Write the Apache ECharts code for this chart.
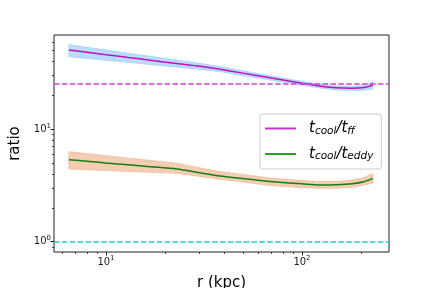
<!DOCTYPE html>
<html><head><meta charset="utf-8">
<script src="https://cdn.jsdelivr.net/npm/echarts@6/dist/echarts.min.js"></script>
<style>html,body{margin:0;padding:0;background:#fff}#c{width:432px;height:288px}</style>
</head><body><div id="c"></div>
<script>
const r = [6.47, 8, 10, 13, 16.8, 23, 30, 38.2, 50, 68.6, 100, 123, 150, 180, 207, 230];
const tff = [50.8, 48.5, 46.1, 43.5, 41.2, 38.4, 36.4, 34.2, 31.6, 28.7, 25.7, 24.3, 23.4, 23.2, 23.5, 24.8];
const tffUpper = [56.6, 53.6, 50.8, 47.5, 44.6, 41.3, 38.6, 36.2, 33.1, 30.0, 26.7, 25.3, 24.4, 24.1, 24.6, 26.5];
const tffLower = [44.3, 42.7, 41.1, 39.4, 37.7, 35.7, 34.2, 32.6, 30.0, 27.4, 24.6, 23.3, 22.4, 22.1, 22.3, 22.7];
const teddy = [5.36, 5.20, 5.02, 4.83, 4.65, 4.43, 4.11, 3.84, 3.65, 3.43, 3.27, 3.19, 3.21, 3.28, 3.42, 3.66];
const teddyUpper = [6.32, 6.08, 5.82, 5.54, 5.29, 4.98, 4.55, 4.20, 3.96, 3.69, 3.50, 3.43, 3.43, 3.54, 3.72, 4.06];
const teddyLower = [4.43, 4.37, 4.30, 4.22, 4.15, 4.06, 3.81, 3.59, 3.40, 3.16, 3.03, 2.99, 2.99, 3.05, 3.19, 3.33];
const tffThreshold = 25.5;
const unityLine = 1;
const xRange = [5.43, 278];
const yRange = [0.81, 69.0];
const xMajorTicks = [10, 100];
const xMinorTicks = [6, 7, 8, 9, 20, 30, 40, 50, 60, 70, 80, 90, 200];
const yMajorTicks = [1, 10];
const yMinorTicks = [0.9, 2, 3, 4, 5, 6, 7, 8, 9, 20, 30, 40, 50, 60];
const seriesNames = ['tcool/tff', 'tcool/teddy'];

const pair = (xs, ys) => xs.map((x, i) => [x, ys[i]]);
const font = 'DejaVu Sans';
const tickFmt = v => '{b|10}{p|' + Math.round(Math.log10(v)) + '}';
const tickRich = { b: { fontSize: 10, fontFamily: font, color: '#222' }, p: { fontSize: 7, fontFamily: font, color: '#222', padding: [0, 0, 7, 0] } };

const chart = echarts.init(document.getElementById('c'), null, { renderer: 'canvas' });
const baseAxis = {
  type: 'log', logBase: 10, splitLine: { show: false }, axisLine: { show: false }
};
const ax = (extra) => Object.assign({}, baseAxis, extra);

function band(name, xs, lo, hi, fill, edge) {
  return {
    type: 'custom', name, silent: true, z: 1, clip: true,
    data: xs.map((x, i) => [x, lo[i], hi[i]]),
    encode: { x: 0, y: [1, 2] },
    renderItem: function (params, api) {
      if (params.dataIndex !== 0) return null;
      const top = xs.map((x, i) => api.coord([x, hi[i]]));
      const bot = xs.map((x, i) => api.coord([x, lo[i]])).reverse();
      return {
        type: 'polygon',
        shape: { points: top.concat(bot) },
        style: { fill: fill, stroke: edge, lineWidth: 0.8 }
      };
    }
  };
}

chart.setOption({
  animation: false,
  grid: { left: 54, right: 43, top: 35, bottom: 36, show: true, borderColor: '#222', borderWidth: 1,
          backgroundColor: 'transparent', containLabel: false, outerBoundsMode: 'none' },
  xAxis: [
    ax({ min: xRange[0], max: xRange[1], position: 'bottom',
      axisTick: { show: true, length: 3.5, lineStyle: { color: '#222', width: 1 }, customValues: xMajorTicks },
      axisLabel: { formatter: tickFmt, rich: tickRich, margin: 3, customValues: xMajorTicks },
      name: 'r (kpc)', nameLocation: 'middle', nameGap: 24,
      nameTextStyle: { fontSize: 15, fontFamily: font, color: '#000' } }),
    ax({ min: xRange[0], max: xRange[1], position: 'bottom',
      axisTick: { show: true, length: 2, lineStyle: { color: '#222', width: 0.8 }, customValues: xMinorTicks },
      axisLabel: { show: false } })
  ],
  yAxis: [
    ax({ min: yRange[0], max: yRange[1], position: 'left',
      axisTick: { show: true, length: 3.5, lineStyle: { color: '#222', width: 1 }, customValues: yMajorTicks },
      axisLabel: { formatter: tickFmt, rich: tickRich, margin: 3, customValues: yMajorTicks },
      name: 'ratio', nameLocation: 'middle', nameGap: 29,
      nameTextStyle: { fontSize: 15, fontFamily: font, color: '#000' } }),
    ax({ min: yRange[0], max: yRange[1], position: 'left',
      axisTick: { show: true, length: 2, lineStyle: { color: '#222', width: 0.8 }, customValues: yMinorTicks },
      axisLabel: { show: false } })
  ],
  legend: {
    data: seriesNames, orient: 'vertical', left: 260, top: 114,
    padding: [7, 8, 7, 5], itemGap: 10, itemWidth: 31, itemHeight: 2, icon: 'rect',
    backgroundColor: 'rgba(255,255,255,0.85)', borderColor: '#ccc', borderWidth: 1, borderRadius: 3,
    formatter: function (name) {
      return name === seriesNames[0] ? '{i|t}{s|cool}{i|/t}{s|ff}' : '{i|t}{s|cool}{i|/t}{s|eddy}';
    },
    textStyle: {
      rich: {
        i: { fontSize: 15, fontStyle: 'italic', fontFamily: font, color: '#000', lineHeight: 20 },
        s: { fontSize: 10.5, fontStyle: 'italic', fontFamily: font, color: '#000', padding: [5, 0, 0, 0] }
      },
      padding: [0, 0, 0, 8]
    }
  },
  series: [
    band('tffBand', r, tffLower, tffUpper, '#badcfb', '#a9d2f8'),
    band('teddyBand', r, teddyLower, teddyUpper, '#f4cdb4', '#efbc9c'),
    {
      type: 'line', name: seriesNames[0], data: pair(r, tff), smooth: 0.3, symbol: 'none',
      itemStyle: { color: '#cc33cc' }, lineStyle: { color: '#c010c0', width: 1.5 }, z: 3,
      markLine: { silent: true, symbol: 'none', label: { show: false },
        lineStyle: { color: '#cc44cc', width: 1.5, type: [5.5, 2.4] },
        data: [{ yAxis: tffThreshold }] }
    },
    {
      type: 'line', name: seriesNames[1], data: pair(r, teddy), smooth: 0.3, symbol: 'none',
      itemStyle: { color: '#339933' }, lineStyle: { color: '#108010', width: 1.5 }, z: 3,
      markLine: { silent: true, symbol: 'none', label: { show: false },
        lineStyle: { color: '#2ec8c8', width: 1.5, type: [5.5, 2.4] },
        data: [{ yAxis: unityLine }] }
    }
  ]
});
</script></body></html>
